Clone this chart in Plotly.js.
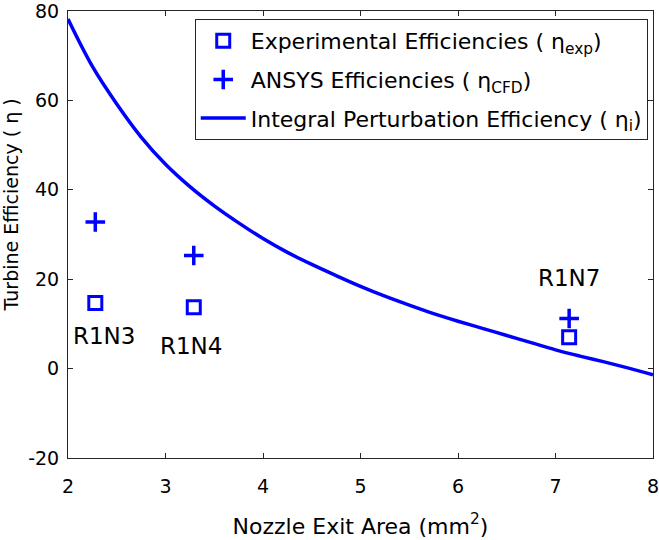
<!DOCTYPE html>
<html>
<head>
<meta charset="utf-8">
<script src="https://cdn.plot.ly/plotly-3.0.1.min.js"></script>
<style>html,body{margin:0;padding:0;background:#fff;}#chart{width:659px;height:540px;}</style>
</head>
<body>
<div id="chart"></div>
<script>
// Nozzle configurations
const nozzleLabels = ["R1N3", "R1N4", "R1N7"];
const nozzleArea = [2.28, 3.29, 7.14];           // mm^2
const expEfficiency = [14.7, 13.7, 7.0];         // eta_exp
const cfdEfficiency = [32.8, 25.3, 11.2];        // eta_CFD
const labelX = [2.37, 3.26, 7.14];               // label positions (data units)
const labelY = [7.4, 5.0, 20.3];

// Integral perturbation efficiency curve
const curveArea = [2.0, 2.25, 2.5, 2.75, 3.0, 3.25, 3.5, 3.75, 4.0, 4.25, 4.5, 4.75, 5.0,
                   5.25, 5.5, 5.75, 6.0, 6.25, 6.5, 6.75, 7.0, 7.25, 7.5, 7.75, 8.0];
const curveEff = [78.2, 67.6, 59.2, 51.8, 45.7, 40.7, 36.4, 32.6, 29.1, 26.0, 23.3, 20.8, 18.4,
                  16.2, 14.2, 12.3, 10.6, 9.0, 7.4, 5.8, 4.2, 2.8, 1.5, 0.1, -1.4];

const xTicks = [2, 3, 4, 5, 6, 7, 8];
const yTicks = [-20, 0, 20, 40, 60, 80];

const FONT = "DejaVu Sans, Verdana, sans-serif";
const FS = 19;
const BLUE = "#0000ff";
const AXC = "#262626";

const traces = [
  {
    x: nozzleArea, y: expEfficiency, type: "scatter", mode: "markers", legendgroup: "a",
    name: "Experimental Efficiencies ( η<sub>exp</sub>)",
    marker: {symbol: "square-open", size: 13, color: BLUE, line: {width: 3, color: BLUE}}
  },
  {
    x: nozzleArea, y: cfdEfficiency, type: "scatter", mode: "markers", legendgroup: "b",
    name: "ANSYS Efficiencies ( η<sub>CFD</sub>)",
    marker: {symbol: "cross-thin-open", size: 14, color: BLUE, line: {width: 3.5, color: BLUE}}
  },
  {
    x: curveArea, y: curveEff, type: "scatter", mode: "lines", legendgroup: "c",
    name: "Integral Perturbation Efficiency ( η<sub>i</sub>)",
    line: {color: BLUE, width: 3.5, shape: "spline", smoothing: 1}
  }
];

const annotations = nozzleLabels.map((t, i) => ({
  x: labelX[i], y: labelY[i], xref: "x", yref: "y", text: t, showarrow: false,
  font: {family: FONT, size: 23, color: "#000"}
}));
annotations.push({
  xref: "paper", yref: "paper", x: 0, y: 0.565, xshift: -57,
  xanchor: "center", yanchor: "middle", textangle: -90, showarrow: false,
  text: "Turbine Efficiency ( η )", font: {family: FONT, size: FS, color: "#000"}
});

const axisCommon = {
  showgrid: false, zeroline: false, showline: true, linecolor: AXC, linewidth: 1,
  mirror: "ticks", ticks: "inside", ticklen: 5, tickcolor: AXC, tickwidth: 1,
  ticklabeloverflow: "allow",
  tickfont: {family: FONT, size: FS, color: "#000"}
};

const layout = {
  width: 659, height: 540,
  margin: {l: 68, r: 6, t: 11, b: 82},
  paper_bgcolor: "#fff", plot_bgcolor: "#fff",
  font: {family: FONT, size: FS, color: "#000"},
  showlegend: true,
  legend: {
    x: 0.991, y: 0.982, xanchor: "right", yanchor: "top",
    bgcolor: "#fff", bordercolor: AXC, borderwidth: 1, tracegroupgap: 7,
    itemwidth: 45,
    font: {family: FONT, size: 22, color: "#000"}
  },
  xaxis: Object.assign({}, axisCommon, {
    range: [2, 8], tickvals: xTicks, ticktext: xTicks.map(String),
    ticklabelstandoff: 11,
    title: {text: "Nozzle Exit Area (mm<sup>2</sup>)", font: {family: FONT, size: 22, color: "#000"}, standoff: 22}
  }),
  yaxis: Object.assign({}, axisCommon, {
    range: [-20, 80], tickvals: yTicks, ticktext: yTicks.map(String),
    ticklabelstandoff: 4
  }),
  annotations: annotations
};

Plotly.newPlot("chart", traces, layout, {displayModeBar: false, staticPlot: true});
</script>
</body>
</html>
